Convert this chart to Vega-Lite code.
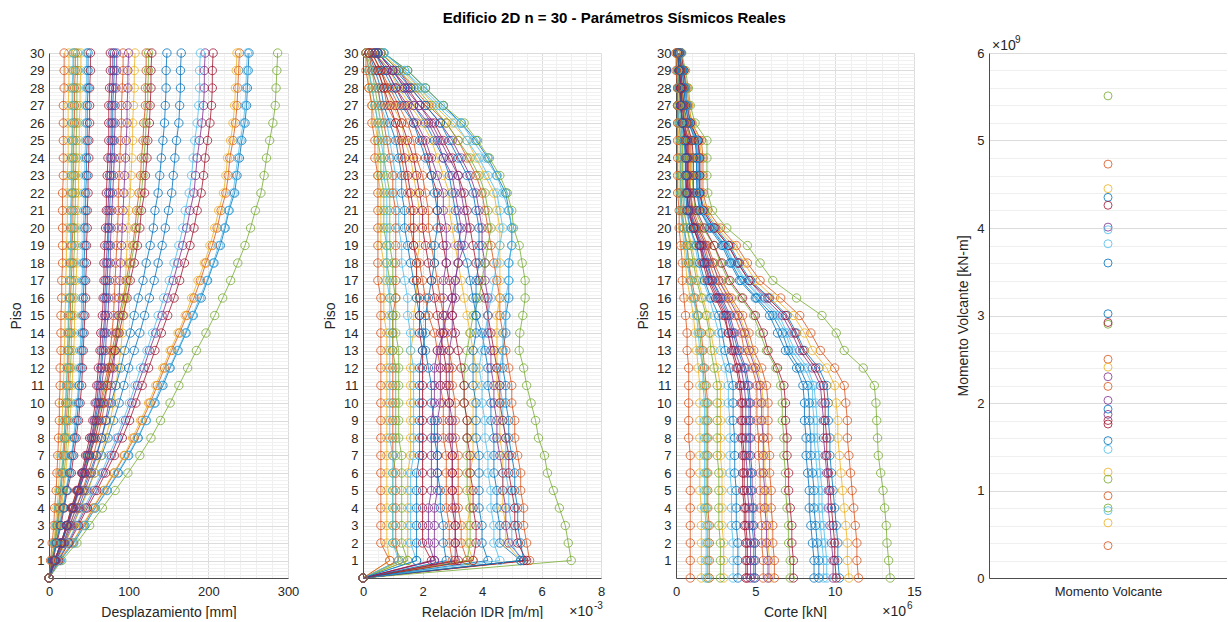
{
"$schema":"https://vega.github.io/schema/vega-lite/v6.json",
"padding":{"left":9,"top":11,"right":0,"bottom":0},
"title":{"text":"Edificio 2D n = 30 - Parámetros Sísmicos Reales","fontSize":15,"fontWeight":"bold","font":"Liberation Sans","color":"#000000","anchor":"middle","offset":9,"dx":-4},
"config":{"font":"Liberation Sans","view":{"stroke":null},
"axis":{"labelFont":"Liberation Sans","labelFontSize":13,"labelColor":"#262626","titleFont":"Liberation Sans","titleFontSize":14,"titleFontWeight":"normal","titleColor":"#262626","domainColor":"#4d4d4d","labelOverlap":false,"labelBound":false,"labelFlush":false,"ticks":false,"labelPadding":5,"titlePadding":6},
"axisX":{"labelPadding":7,"titlePadding":7}},
"datasets":{
"f":[
{"s":1,"p":0,"d":0,"r":0,"v":10.3},{"s":1,"p":1,"d":14,"r":5.4,"v":10.2},{"s":1,"p":2,"d":31,"r":5.3,"v":10.2},{"s":1,"p":3,"d":45,"r":5.2,"v":10.1},{"s":1,"p":4,"d":58,"r":5.2,"v":10.0},{"s":1,"p":5,"d":73,"r":5.1,"v":9.9},{"s":1,"p":6,"d":87,"r":5.1,"v":9.8},{"s":1,"p":7,"d":100,"r":5.0,"v":9.7},{"s":1,"p":8,"d":112,"r":4.9,"v":9.7},{"s":1,"p":9,"d":122,"r":4.9,"v":9.6},{"s":1,"p":10,"d":133,"r":4.8,"v":9.6},{"s":1,"p":11,"d":143,"r":4.8,"v":9.5},{"s":1,"p":12,"d":152,"r":4.7,"v":9.0},{"s":1,"p":13,"d":162,"r":4.7,"v":8.1},{"s":1,"p":14,"d":172,"r":4.8,"v":7.6},{"s":1,"p":15,"d":181,"r":4.8,"v":7.0},{"s":1,"p":16,"d":191,"r":4.9,"v":5.9},{"s":1,"p":17,"d":199,"r":4.9,"v":4.7},{"s":1,"p":18,"d":207,"r":4.9,"v":4.0},{"s":1,"p":19,"d":215,"r":5.0,"v":3.4},{"s":1,"p":20,"d":221,"r":5.0,"v":2.5},{"s":1,"p":21,"d":226,"r":4.9,"v":1.8},{"s":1,"p":22,"d":233,"r":4.8,"v":1.5},{"s":1,"p":23,"d":236,"r":4.5,"v":1.5},{"s":1,"p":24,"d":239,"r":4.2,"v":1.5},{"s":1,"p":25,"d":242,"r":3.8,"v":1.4},{"s":1,"p":26,"d":246,"r":3.3,"v":0.9},{"s":1,"p":27,"d":248,"r":2.7,"v":0.7},{"s":1,"p":28,"d":249,"r":2.1,"v":0.6},{"s":1,"p":29,"d":250,"r":1.5,"v":0.5},{"s":1,"p":30,"d":251,"r":0.7,"v":0.3},
{"s":2,"p":0,"d":0,"r":0,"v":11.5},{"s":2,"p":1,"d":13,"r":5.6,"v":11.4},{"s":2,"p":2,"d":29,"r":5.5,"v":11.4},{"s":2,"p":3,"d":43,"r":5.4,"v":11.3},{"s":2,"p":4,"d":56,"r":5.4,"v":11.2},{"s":2,"p":5,"d":69,"r":5.3,"v":11.1},{"s":2,"p":6,"d":82,"r":5.3,"v":11.0},{"s":2,"p":7,"d":95,"r":5.2,"v":10.9},{"s":2,"p":8,"d":107,"r":5.1,"v":10.8},{"s":2,"p":9,"d":117,"r":5.1,"v":10.8},{"s":2,"p":10,"d":127,"r":5.0,"v":10.7},{"s":2,"p":11,"d":136,"r":5.0,"v":10.6},{"s":2,"p":12,"d":145,"r":4.9,"v":10.0},{"s":2,"p":13,"d":154,"r":4.8,"v":9.1},{"s":2,"p":14,"d":164,"r":4.7,"v":8.5},{"s":2,"p":15,"d":173,"r":4.6,"v":7.8},{"s":2,"p":16,"d":182,"r":4.6,"v":6.6},{"s":2,"p":17,"d":190,"r":4.5,"v":5.3},{"s":2,"p":18,"d":197,"r":4.4,"v":4.5},{"s":2,"p":19,"d":205,"r":4.3,"v":3.8},{"s":2,"p":20,"d":211,"r":4.2,"v":2.8},{"s":2,"p":21,"d":216,"r":4.1,"v":2.0},{"s":2,"p":22,"d":222,"r":4.0,"v":1.7},{"s":2,"p":23,"d":225,"r":3.8,"v":1.7},{"s":2,"p":24,"d":227,"r":3.5,"v":1.7},{"s":2,"p":25,"d":231,"r":3.2,"v":1.6},{"s":2,"p":26,"d":234,"r":2.8,"v":1.0},{"s":2,"p":27,"d":236,"r":2.2,"v":0.8},{"s":2,"p":28,"d":237,"r":1.7,"v":0.7},{"s":2,"p":29,"d":238,"r":1.2,"v":0.5},{"s":2,"p":30,"d":239,"r":0.6,"v":0.3},
{"s":3,"p":0,"d":0,"r":0,"v":10.9},{"s":3,"p":1,"d":13,"r":5.3,"v":10.8},{"s":3,"p":2,"d":29,"r":4.8,"v":10.8},{"s":3,"p":3,"d":42,"r":4.8,"v":10.7},{"s":3,"p":4,"d":55,"r":4.7,"v":10.6},{"s":3,"p":5,"d":68,"r":4.7,"v":10.5},{"s":3,"p":6,"d":81,"r":4.7,"v":10.4},{"s":3,"p":7,"d":94,"r":4.7,"v":10.3},{"s":3,"p":8,"d":105,"r":4.6,"v":10.2},{"s":3,"p":9,"d":115,"r":4.6,"v":10.2},{"s":3,"p":10,"d":125,"r":4.6,"v":10.1},{"s":3,"p":11,"d":134,"r":4.5,"v":10.0},{"s":3,"p":12,"d":143,"r":4.5,"v":9.5},{"s":3,"p":13,"d":152,"r":4.5,"v":8.6},{"s":3,"p":14,"d":162,"r":4.5,"v":8.1},{"s":3,"p":15,"d":171,"r":4.5,"v":7.4},{"s":3,"p":16,"d":179,"r":4.6,"v":6.2},{"s":3,"p":17,"d":187,"r":4.6,"v":5.0},{"s":3,"p":18,"d":195,"r":4.6,"v":4.3},{"s":3,"p":19,"d":202,"r":4.6,"v":3.6},{"s":3,"p":20,"d":208,"r":4.6,"v":2.6},{"s":3,"p":21,"d":213,"r":4.5,"v":1.9},{"s":3,"p":22,"d":219,"r":4.4,"v":1.6},{"s":3,"p":23,"d":222,"r":4.1,"v":1.6},{"s":3,"p":24,"d":224,"r":3.8,"v":1.6},{"s":3,"p":25,"d":228,"r":3.5,"v":1.5},{"s":3,"p":26,"d":231,"r":3.0,"v":1.0},{"s":3,"p":27,"d":233,"r":2.4,"v":0.8},{"s":3,"p":28,"d":234,"r":1.9,"v":0.7},{"s":3,"p":29,"d":235,"r":1.3,"v":0.5},{"s":3,"p":30,"d":236,"r":0.6,"v":0.3},
{"s":4,"p":0,"d":0,"r":0,"v":9.9},{"s":4,"p":1,"d":11,"r":5.4,"v":9.9},{"s":4,"p":2,"d":24,"r":4.9,"v":9.8},{"s":4,"p":3,"d":35,"r":4.8,"v":9.7},{"s":4,"p":4,"d":46,"r":4.8,"v":9.6},{"s":4,"p":5,"d":57,"r":4.7,"v":9.6},{"s":4,"p":6,"d":68,"r":4.7,"v":9.5},{"s":4,"p":7,"d":78,"r":4.6,"v":9.4},{"s":4,"p":8,"d":87,"r":4.5,"v":9.3},{"s":4,"p":9,"d":96,"r":4.5,"v":9.3},{"s":4,"p":10,"d":104,"r":4.4,"v":9.2},{"s":4,"p":11,"d":111,"r":4.4,"v":9.1},{"s":4,"p":12,"d":119,"r":4.3,"v":8.6},{"s":4,"p":13,"d":126,"r":4.3,"v":7.8},{"s":4,"p":14,"d":134,"r":4.2,"v":7.3},{"s":4,"p":15,"d":142,"r":4.2,"v":6.7},{"s":4,"p":16,"d":149,"r":4.2,"v":5.6},{"s":4,"p":17,"d":156,"r":4.1,"v":4.6},{"s":4,"p":18,"d":162,"r":4.1,"v":3.9},{"s":4,"p":19,"d":168,"r":4.0,"v":3.3},{"s":4,"p":20,"d":173,"r":4.0,"v":2.4},{"s":4,"p":21,"d":177,"r":3.9,"v":1.7},{"s":4,"p":22,"d":182,"r":3.8,"v":1.5},{"s":4,"p":23,"d":184,"r":3.6,"v":1.4},{"s":4,"p":24,"d":186,"r":3.3,"v":1.4},{"s":4,"p":25,"d":189,"r":3.0,"v":1.4},{"s":4,"p":26,"d":192,"r":2.6,"v":0.9},{"s":4,"p":27,"d":194,"r":2.1,"v":0.7},{"s":4,"p":28,"d":195,"r":1.6,"v":0.6},{"s":4,"p":29,"d":195,"r":1.2,"v":0.4},{"s":4,"p":30,"d":196,"r":0.6,"v":0.3},
{"s":5,"p":0,"d":0,"r":0,"v":13.5},{"s":5,"p":1,"d":16,"r":7.0,"v":13.4},{"s":5,"p":2,"d":35,"r":6.9,"v":13.3},{"s":5,"p":3,"d":51,"r":6.8,"v":13.25},{"s":5,"p":4,"d":67,"r":6.6,"v":13.15},{"s":5,"p":5,"d":83,"r":6.4,"v":13.05},{"s":5,"p":6,"d":99,"r":6.2,"v":12.9},{"s":5,"p":7,"d":114,"r":6.1,"v":12.75},{"s":5,"p":8,"d":128,"r":5.9,"v":12.7},{"s":5,"p":9,"d":140,"r":5.8,"v":12.65},{"s":5,"p":10,"d":152,"r":5.65,"v":12.6},{"s":5,"p":11,"d":163,"r":5.5,"v":12.5},{"s":5,"p":12,"d":174,"r":5.4,"v":11.8},{"s":5,"p":13,"d":185,"r":5.25,"v":10.6},{"s":5,"p":14,"d":197,"r":5.27,"v":10.1},{"s":5,"p":15,"d":208,"r":5.37,"v":9.2},{"s":5,"p":16,"d":218,"r":5.45,"v":7.6},{"s":5,"p":17,"d":228,"r":5.45,"v":6.1},{"s":5,"p":18,"d":237,"r":5.35,"v":5.3},{"s":5,"p":19,"d":246,"r":5.25,"v":4.5},{"s":5,"p":20,"d":253,"r":5.06,"v":3.2},{"s":5,"p":21,"d":259,"r":5.0,"v":2.3},{"s":5,"p":22,"d":266,"r":4.85,"v":2.0},{"s":5,"p":23,"d":270,"r":4.6,"v":1.95},{"s":5,"p":24,"d":273,"r":4.25,"v":1.95},{"s":5,"p":25,"d":277,"r":3.85,"v":1.95},{"s":5,"p":26,"d":281,"r":3.4,"v":1.2},{"s":5,"p":27,"d":284,"r":2.7,"v":0.9},{"s":5,"p":28,"d":285,"r":2.1,"v":0.78},{"s":5,"p":29,"d":286,"r":1.5,"v":0.6},{"s":5,"p":30,"d":287,"r":0.7,"v":0.36},
{"s":6,"p":0,"d":0,"r":0,"v":9.5},{"s":6,"p":1,"d":14,"r":5.3,"v":9.5},{"s":6,"p":2,"d":30,"r":5.0,"v":9.4},{"s":6,"p":3,"d":44,"r":5.0,"v":9.3},{"s":6,"p":4,"d":58,"r":4.9,"v":9.2},{"s":6,"p":5,"d":72,"r":4.9,"v":9.2},{"s":6,"p":6,"d":86,"r":4.8,"v":9.1},{"s":6,"p":7,"d":99,"r":4.8,"v":9.0},{"s":6,"p":8,"d":111,"r":4.8,"v":8.9},{"s":6,"p":9,"d":122,"r":4.7,"v":8.9},{"s":6,"p":10,"d":132,"r":4.7,"v":8.8},{"s":6,"p":11,"d":141,"r":4.6,"v":8.7},{"s":6,"p":12,"d":151,"r":4.6,"v":8.3},{"s":6,"p":13,"d":161,"r":4.7,"v":7.5},{"s":6,"p":14,"d":171,"r":4.7,"v":7.0},{"s":6,"p":15,"d":180,"r":4.8,"v":6.5},{"s":6,"p":16,"d":189,"r":4.8,"v":5.4},{"s":6,"p":17,"d":198,"r":4.9,"v":4.4},{"s":6,"p":18,"d":206,"r":4.9,"v":3.7},{"s":6,"p":19,"d":213,"r":5.0,"v":3.1},{"s":6,"p":20,"d":220,"r":5.0,"v":2.3},{"s":6,"p":21,"d":225,"r":4.9,"v":1.6},{"s":6,"p":22,"d":231,"r":4.7,"v":1.4},{"s":6,"p":23,"d":234,"r":4.5,"v":1.4},{"s":6,"p":24,"d":237,"r":4.1,"v":1.4},{"s":6,"p":25,"d":240,"r":3.7,"v":1.3},{"s":6,"p":26,"d":244,"r":3.3,"v":0.9},{"s":6,"p":27,"d":246,"r":2.6,"v":0.7},{"s":6,"p":28,"d":247,"r":2.0,"v":0.6},{"s":6,"p":29,"d":248,"r":1.4,"v":0.4},{"s":6,"p":30,"d":249,"r":0.7,"v":0.3},
{"s":7,"p":0,"d":0,"r":0,"v":10.1},{"s":7,"p":1,"d":12,"r":5.5,"v":10.0},{"s":7,"p":2,"d":25,"r":5.2,"v":10.0},{"s":7,"p":3,"d":37,"r":5.1,"v":9.9},{"s":7,"p":4,"d":48,"r":5.1,"v":9.8},{"s":7,"p":5,"d":60,"r":5.0,"v":9.7},{"s":7,"p":6,"d":71,"r":4.9,"v":9.6},{"s":7,"p":7,"d":82,"r":4.9,"v":9.5},{"s":7,"p":8,"d":92,"r":4.8,"v":9.5},{"s":7,"p":9,"d":101,"r":4.7,"v":9.4},{"s":7,"p":10,"d":109,"r":4.6,"v":9.4},{"s":7,"p":11,"d":117,"r":4.6,"v":9.3},{"s":7,"p":12,"d":125,"r":4.5,"v":8.8},{"s":7,"p":13,"d":133,"r":4.4,"v":8.0},{"s":7,"p":14,"d":141,"r":4.3,"v":7.5},{"s":7,"p":15,"d":149,"r":4.2,"v":6.9},{"s":7,"p":16,"d":157,"r":4.1,"v":5.8},{"s":7,"p":17,"d":164,"r":3.9,"v":4.6},{"s":7,"p":18,"d":170,"r":3.8,"v":3.9},{"s":7,"p":19,"d":177,"r":3.7,"v":3.3},{"s":7,"p":20,"d":182,"r":3.6,"v":2.4},{"s":7,"p":21,"d":186,"r":3.5,"v":1.7},{"s":7,"p":22,"d":191,"r":3.4,"v":1.5},{"s":7,"p":23,"d":194,"r":3.2,"v":1.5},{"s":7,"p":24,"d":196,"r":3.0,"v":1.5},{"s":7,"p":25,"d":199,"r":2.7,"v":1.4},{"s":7,"p":26,"d":202,"r":2.4,"v":0.9},{"s":7,"p":27,"d":204,"r":1.9,"v":0.7},{"s":7,"p":28,"d":205,"r":1.5,"v":0.6},{"s":7,"p":29,"d":205,"r":1.0,"v":0.5},{"s":7,"p":30,"d":206,"r":0.5,"v":0.3},
{"s":8,"p":0,"d":0,"r":0,"v":9.0},{"s":8,"p":1,"d":9,"r":5.3,"v":9.0},{"s":8,"p":2,"d":20,"r":4.6,"v":8.9},{"s":8,"p":3,"d":30,"r":4.6,"v":8.8},{"s":8,"p":4,"d":39,"r":4.5,"v":8.7},{"s":8,"p":5,"d":48,"r":4.5,"v":8.7},{"s":8,"p":6,"d":57,"r":4.4,"v":8.6},{"s":8,"p":7,"d":66,"r":4.4,"v":8.5},{"s":8,"p":8,"d":74,"r":4.4,"v":8.5},{"s":8,"p":9,"d":81,"r":4.3,"v":8.4},{"s":8,"p":10,"d":88,"r":4.3,"v":8.4},{"s":8,"p":11,"d":94,"r":4.2,"v":8.3},{"s":8,"p":12,"d":100,"r":4.2,"v":7.8},{"s":8,"p":13,"d":107,"r":4.1,"v":7.1},{"s":8,"p":14,"d":114,"r":4.0,"v":6.7},{"s":8,"p":15,"d":120,"r":3.8,"v":6.1},{"s":8,"p":16,"d":126,"r":3.7,"v":5.1},{"s":8,"p":17,"d":132,"r":3.6,"v":4.1},{"s":8,"p":18,"d":137,"r":3.5,"v":3.5},{"s":8,"p":19,"d":142,"r":3.3,"v":3.0},{"s":8,"p":20,"d":146,"r":3.2,"v":2.2},{"s":8,"p":21,"d":150,"r":3.1,"v":1.5},{"s":8,"p":22,"d":154,"r":3.0,"v":1.4},{"s":8,"p":23,"d":156,"r":2.9,"v":1.3},{"s":8,"p":24,"d":158,"r":2.7,"v":1.3},{"s":8,"p":25,"d":160,"r":2.4,"v":1.3},{"s":8,"p":26,"d":163,"r":2.1,"v":0.8},{"s":8,"p":27,"d":164,"r":1.7,"v":0.6},{"s":8,"p":28,"d":165,"r":1.3,"v":0.5},{"s":8,"p":29,"d":165,"r":0.9,"v":0.4},{"s":8,"p":30,"d":166,"r":0.4,"v":0.2},
{"s":9,"p":0,"d":0,"r":0,"v":6.2},{"s":9,"p":1,"d":7,"r":3.5,"v":6.2},{"s":9,"p":2,"d":15,"r":3.3,"v":6.1},{"s":9,"p":3,"d":22,"r":3.3,"v":6.1},{"s":9,"p":4,"d":28,"r":3.2,"v":6.0},{"s":9,"p":5,"d":35,"r":3.2,"v":6.0},{"s":9,"p":6,"d":42,"r":3.2,"v":5.9},{"s":9,"p":7,"d":48,"r":3.2,"v":5.9},{"s":9,"p":8,"d":54,"r":3.1,"v":5.8},{"s":9,"p":9,"d":60,"r":3.1,"v":5.8},{"s":9,"p":10,"d":65,"r":3.1,"v":5.8},{"s":9,"p":11,"d":69,"r":3.0,"v":5.7},{"s":9,"p":12,"d":74,"r":3.0,"v":5.4},{"s":9,"p":13,"d":79,"r":2.9,"v":4.9},{"s":9,"p":14,"d":84,"r":2.8,"v":4.6},{"s":9,"p":15,"d":88,"r":2.7,"v":4.2},{"s":9,"p":16,"d":93,"r":2.6,"v":3.5},{"s":9,"p":17,"d":97,"r":2.5,"v":2.9},{"s":9,"p":18,"d":101,"r":2.4,"v":2.4},{"s":9,"p":19,"d":105,"r":2.3,"v":2.0},{"s":9,"p":20,"d":108,"r":2.2,"v":1.5},{"s":9,"p":21,"d":110,"r":2.2,"v":1.1},{"s":9,"p":22,"d":113,"r":2.1,"v":0.9},{"s":9,"p":23,"d":115,"r":2.0,"v":0.9},{"s":9,"p":24,"d":116,"r":1.8,"v":0.9},{"s":9,"p":25,"d":118,"r":1.7,"v":0.9},{"s":9,"p":26,"d":119,"r":1.5,"v":0.6},{"s":9,"p":27,"d":121,"r":1.2,"v":0.4},{"s":9,"p":28,"d":121,"r":0.9,"v":0.4},{"s":9,"p":29,"d":122,"r":0.6,"v":0.3},{"s":9,"p":30,"d":122,"r":0.3,"v":0.2},
{"s":10,"p":0,"d":0,"r":0,"v":5.9},{"s":10,"p":1,"d":10,"r":3.7,"v":5.9},{"s":10,"p":2,"d":21,"r":3.5,"v":5.8},{"s":10,"p":3,"d":30,"r":3.5,"v":5.8},{"s":10,"p":4,"d":40,"r":3.6,"v":5.7},{"s":10,"p":5,"d":49,"r":3.6,"v":5.7},{"s":10,"p":6,"d":57,"r":3.6,"v":5.6},{"s":10,"p":7,"d":65,"r":3.7,"v":5.6},{"s":10,"p":8,"d":71,"r":3.7,"v":5.5},{"s":10,"p":9,"d":77,"r":3.7,"v":5.5},{"s":10,"p":10,"d":81,"r":3.7,"v":5.5},{"s":10,"p":11,"d":84,"r":3.8,"v":5.4},{"s":10,"p":12,"d":87,"r":3.8,"v":5.1},{"s":10,"p":13,"d":90,"r":3.7,"v":4.7},{"s":10,"p":14,"d":92,"r":3.6,"v":4.4},{"s":10,"p":15,"d":94,"r":3.5,"v":4.0},{"s":10,"p":16,"d":95,"r":3.4,"v":3.4},{"s":10,"p":17,"d":96,"r":3.3,"v":2.7},{"s":10,"p":18,"d":97,"r":3.2,"v":2.3},{"s":10,"p":19,"d":98,"r":3.1,"v":1.9},{"s":10,"p":20,"d":99,"r":3.0,"v":1.4},{"s":10,"p":21,"d":100,"r":2.9,"v":1.0},{"s":10,"p":22,"d":102,"r":2.9,"v":0.9},{"s":10,"p":23,"d":103,"r":2.7,"v":0.9},{"s":10,"p":24,"d":104,"r":2.5,"v":0.9},{"s":10,"p":25,"d":105,"r":2.3,"v":0.8},{"s":10,"p":26,"d":105,"r":2.0,"v":0.5},{"s":10,"p":27,"d":106,"r":1.6,"v":0.4},{"s":10,"p":28,"d":107,"r":1.2,"v":0.4},{"s":10,"p":29,"d":107,"r":0.9,"v":0.3},{"s":10,"p":30,"d":108,"r":0.4,"v":0.2},
{"s":11,"p":0,"d":0,"r":0,"v":5.8},{"s":11,"p":1,"d":9,"r":3.1,"v":5.8},{"s":11,"p":2,"d":19,"r":3.1,"v":5.7},{"s":11,"p":3,"d":28,"r":3.1,"v":5.7},{"s":11,"p":4,"d":37,"r":3.1,"v":5.6},{"s":11,"p":5,"d":45,"r":3.0,"v":5.6},{"s":11,"p":6,"d":53,"r":3.0,"v":5.5},{"s":11,"p":7,"d":60,"r":3.0,"v":5.5},{"s":11,"p":8,"d":66,"r":3.0,"v":5.5},{"s":11,"p":9,"d":71,"r":3.0,"v":5.4},{"s":11,"p":10,"d":75,"r":2.9,"v":5.4},{"s":11,"p":11,"d":78,"r":2.9,"v":5.3},{"s":11,"p":12,"d":81,"r":2.9,"v":5.0},{"s":11,"p":13,"d":83,"r":2.9,"v":4.6},{"s":11,"p":14,"d":85,"r":3.0,"v":4.3},{"s":11,"p":15,"d":87,"r":3.0,"v":3.9},{"s":11,"p":16,"d":88,"r":3.1,"v":3.3},{"s":11,"p":17,"d":89,"r":3.1,"v":2.7},{"s":11,"p":18,"d":90,"r":3.2,"v":2.3},{"s":11,"p":19,"d":91,"r":3.2,"v":1.9},{"s":11,"p":20,"d":92,"r":3.3,"v":1.4},{"s":11,"p":21,"d":93,"r":3.2,"v":1.0},{"s":11,"p":22,"d":94,"r":3.1,"v":0.9},{"s":11,"p":23,"d":95,"r":3.0,"v":0.8},{"s":11,"p":24,"d":96,"r":2.7,"v":0.8},{"s":11,"p":25,"d":97,"r":2.5,"v":0.8},{"s":11,"p":26,"d":98,"r":2.2,"v":0.5},{"s":11,"p":27,"d":98,"r":1.7,"v":0.4},{"s":11,"p":28,"d":99,"r":1.4,"v":0.3},{"s":11,"p":29,"d":99,"r":1.0,"v":0.3},{"s":11,"p":30,"d":100,"r":0.5,"v":0.2},
{"s":12,"p":0,"d":0,"r":0,"v":7.2},{"s":12,"p":1,"d":7,"r":3.5,"v":7.2},{"s":12,"p":2,"d":15,"r":3.6,"v":7.1},{"s":12,"p":3,"d":22,"r":3.6,"v":7.1},{"s":12,"p":4,"d":29,"r":3.6,"v":7.0},{"s":12,"p":5,"d":36,"r":3.5,"v":6.9},{"s":12,"p":6,"d":43,"r":3.5,"v":6.9},{"s":12,"p":7,"d":50,"r":3.5,"v":6.8},{"s":12,"p":8,"d":56,"r":3.5,"v":6.8},{"s":12,"p":9,"d":61,"r":3.5,"v":6.7},{"s":12,"p":10,"d":66,"r":3.4,"v":6.7},{"s":12,"p":11,"d":71,"r":3.4,"v":6.6},{"s":12,"p":12,"d":76,"r":3.4,"v":6.3},{"s":12,"p":13,"d":81,"r":3.5,"v":5.7},{"s":12,"p":14,"d":86,"r":3.6,"v":5.3},{"s":12,"p":15,"d":90,"r":3.7,"v":4.9},{"s":12,"p":16,"d":95,"r":3.9,"v":4.1},{"s":12,"p":17,"d":99,"r":4.0,"v":3.3},{"s":12,"p":18,"d":103,"r":4.1,"v":2.8},{"s":12,"p":19,"d":107,"r":4.2,"v":2.4},{"s":12,"p":20,"d":110,"r":4.3,"v":1.7},{"s":12,"p":21,"d":113,"r":4.2,"v":1.2},{"s":12,"p":22,"d":116,"r":4.1,"v":1.1},{"s":12,"p":23,"d":118,"r":3.9,"v":1.0},{"s":12,"p":24,"d":119,"r":3.6,"v":1.0},{"s":12,"p":25,"d":121,"r":3.2,"v":1.0},{"s":12,"p":26,"d":122,"r":2.8,"v":0.6},{"s":12,"p":27,"d":124,"r":2.3,"v":0.5},{"s":12,"p":28,"d":124,"r":1.8,"v":0.4},{"s":12,"p":29,"d":125,"r":1.2,"v":0.3},{"s":12,"p":30,"d":125,"r":0.6,"v":0.2},
{"s":13,"p":0,"d":0,"r":0,"v":9.3},{"s":13,"p":1,"d":11,"r":4.6,"v":9.3},{"s":13,"p":2,"d":23,"r":4.4,"v":9.2},{"s":13,"p":3,"d":34,"r":4.4,"v":9.1},{"s":13,"p":4,"d":44,"r":4.3,"v":9.0},{"s":13,"p":5,"d":55,"r":4.3,"v":9.0},{"s":13,"p":6,"d":66,"r":4.2,"v":8.9},{"s":13,"p":7,"d":75,"r":4.2,"v":8.8},{"s":13,"p":8,"d":85,"r":4.1,"v":8.7},{"s":13,"p":9,"d":93,"r":4.1,"v":8.7},{"s":13,"p":10,"d":101,"r":4.0,"v":8.6},{"s":13,"p":11,"d":108,"r":4.0,"v":8.6},{"s":13,"p":12,"d":115,"r":3.9,"v":8.1},{"s":13,"p":13,"d":123,"r":4.0,"v":7.3},{"s":13,"p":14,"d":130,"r":4.1,"v":6.9},{"s":13,"p":15,"d":137,"r":4.2,"v":6.3},{"s":13,"p":16,"d":144,"r":4.3,"v":5.3},{"s":13,"p":17,"d":151,"r":4.4,"v":4.3},{"s":13,"p":18,"d":157,"r":4.5,"v":3.6},{"s":13,"p":19,"d":163,"r":4.6,"v":3.1},{"s":13,"p":20,"d":168,"r":4.7,"v":2.2},{"s":13,"p":21,"d":171,"r":4.6,"v":1.6},{"s":13,"p":22,"d":176,"r":4.5,"v":1.4},{"s":13,"p":23,"d":179,"r":4.2,"v":1.3},{"s":13,"p":24,"d":181,"r":3.9,"v":1.3},{"s":13,"p":25,"d":183,"r":3.5,"v":1.3},{"s":13,"p":26,"d":186,"r":3.1,"v":0.8},{"s":13,"p":27,"d":188,"r":2.5,"v":0.7},{"s":13,"p":28,"d":189,"r":1.9,"v":0.6},{"s":13,"p":29,"d":189,"r":1.4,"v":0.4},{"s":13,"p":30,"d":190,"r":0.7,"v":0.3},
{"s":14,"p":0,"d":0,"r":0,"v":7.4},{"s":14,"p":1,"d":7,"r":3.7,"v":7.4},{"s":14,"p":2,"d":16,"r":3.8,"v":7.3},{"s":14,"p":3,"d":23,"r":3.8,"v":7.3},{"s":14,"p":4,"d":30,"r":3.7,"v":7.2},{"s":14,"p":5,"d":37,"r":3.7,"v":7.1},{"s":14,"p":6,"d":45,"r":3.6,"v":7.1},{"s":14,"p":7,"d":51,"r":3.6,"v":7.0},{"s":14,"p":8,"d":58,"r":3.5,"v":7.0},{"s":14,"p":9,"d":63,"r":3.5,"v":6.9},{"s":14,"p":10,"d":68,"r":3.4,"v":6.9},{"s":14,"p":11,"d":73,"r":3.4,"v":6.8},{"s":14,"p":12,"d":78,"r":3.3,"v":6.4},{"s":14,"p":13,"d":83,"r":3.2,"v":5.8},{"s":14,"p":14,"d":88,"r":3.1,"v":5.5},{"s":14,"p":15,"d":93,"r":3.0,"v":5.0},{"s":14,"p":16,"d":98,"r":3.0,"v":4.2},{"s":14,"p":17,"d":102,"r":2.9,"v":3.4},{"s":14,"p":18,"d":107,"r":2.8,"v":2.9},{"s":14,"p":19,"d":111,"r":2.7,"v":2.4},{"s":14,"p":20,"d":114,"r":2.6,"v":1.8},{"s":14,"p":21,"d":116,"r":2.5,"v":1.3},{"s":14,"p":22,"d":120,"r":2.5,"v":1.1},{"s":14,"p":23,"d":121,"r":2.3,"v":1.1},{"s":14,"p":24,"d":123,"r":2.2,"v":1.1},{"s":14,"p":25,"d":124,"r":2.0,"v":1.0},{"s":14,"p":26,"d":126,"r":1.7,"v":0.7},{"s":14,"p":27,"d":127,"r":1.4,"v":0.5},{"s":14,"p":28,"d":128,"r":1.1,"v":0.4},{"s":14,"p":29,"d":128,"r":0.8,"v":0.3},{"s":14,"p":30,"d":129,"r":0.4,"v":0.2},
{"s":15,"p":0,"d":0,"r":0,"v":8.7},{"s":15,"p":1,"d":8,"r":4.2,"v":8.7},{"s":15,"p":2,"d":18,"r":4.0,"v":8.6},{"s":15,"p":3,"d":26,"r":4.0,"v":8.5},{"s":15,"p":4,"d":34,"r":3.9,"v":8.4},{"s":15,"p":5,"d":43,"r":3.9,"v":8.4},{"s":15,"p":6,"d":51,"r":3.9,"v":8.3},{"s":15,"p":7,"d":59,"r":3.9,"v":8.2},{"s":15,"p":8,"d":66,"r":3.8,"v":8.2},{"s":15,"p":9,"d":72,"r":3.8,"v":8.1},{"s":15,"p":10,"d":78,"r":3.8,"v":8.1},{"s":15,"p":11,"d":84,"r":3.7,"v":8.0},{"s":15,"p":12,"d":90,"r":3.7,"v":7.6},{"s":15,"p":13,"d":95,"r":3.7,"v":6.9},{"s":15,"p":14,"d":102,"r":3.8,"v":6.4},{"s":15,"p":15,"d":107,"r":3.8,"v":5.9},{"s":15,"p":16,"d":112,"r":3.8,"v":5.0},{"s":15,"p":17,"d":118,"r":3.8,"v":4.0},{"s":15,"p":18,"d":122,"r":3.9,"v":3.4},{"s":15,"p":19,"d":127,"r":3.9,"v":2.9},{"s":15,"p":20,"d":131,"r":3.9,"v":2.1},{"s":15,"p":21,"d":133,"r":3.8,"v":1.5},{"s":15,"p":22,"d":137,"r":3.7,"v":1.3},{"s":15,"p":23,"d":139,"r":3.5,"v":1.3},{"s":15,"p":24,"d":141,"r":3.2,"v":1.3},{"s":15,"p":25,"d":143,"r":2.9,"v":1.2},{"s":15,"p":26,"d":145,"r":2.6,"v":0.8},{"s":15,"p":27,"d":146,"r":2.1,"v":0.6},{"s":15,"p":28,"d":147,"r":1.6,"v":0.5},{"s":15,"p":29,"d":147,"r":1.1,"v":0.4},{"s":15,"p":30,"d":148,"r":0.5,"v":0.2},
{"s":16,"p":0,"d":0,"r":0,"v":5.5},{"s":16,"p":1,"d":8,"r":3.0,"v":5.5},{"s":16,"p":2,"d":18,"r":2.9,"v":5.4},{"s":16,"p":3,"d":26,"r":2.9,"v":5.4},{"s":16,"p":4,"d":34,"r":2.8,"v":5.3},{"s":16,"p":5,"d":42,"r":2.8,"v":5.3},{"s":16,"p":6,"d":49,"r":2.8,"v":5.3},{"s":16,"p":7,"d":56,"r":2.8,"v":5.2},{"s":16,"p":8,"d":61,"r":2.7,"v":5.2},{"s":16,"p":9,"d":66,"r":2.7,"v":5.1},{"s":16,"p":10,"d":70,"r":2.7,"v":5.1},{"s":16,"p":11,"d":73,"r":2.6,"v":5.1},{"s":16,"p":12,"d":75,"r":2.6,"v":4.8},{"s":16,"p":13,"d":77,"r":2.5,"v":4.3},{"s":16,"p":14,"d":79,"r":2.4,"v":4.1},{"s":16,"p":15,"d":81,"r":2.2,"v":3.7},{"s":16,"p":16,"d":82,"r":2.1,"v":3.1},{"s":16,"p":17,"d":83,"r":2.0,"v":2.5},{"s":16,"p":18,"d":84,"r":1.9,"v":2.1},{"s":16,"p":19,"d":85,"r":1.7,"v":1.8},{"s":16,"p":20,"d":86,"r":1.6,"v":1.3},{"s":16,"p":21,"d":87,"r":1.6,"v":0.9},{"s":16,"p":22,"d":87,"r":1.5,"v":0.8},{"s":16,"p":23,"d":88,"r":1.4,"v":0.8},{"s":16,"p":24,"d":89,"r":1.3,"v":0.8},{"s":16,"p":25,"d":90,"r":1.2,"v":0.8},{"s":16,"p":26,"d":91,"r":1.1,"v":0.5},{"s":16,"p":27,"d":91,"r":0.8,"v":0.4},{"s":16,"p":28,"d":92,"r":0.7,"v":0.3},{"s":16,"p":29,"d":93,"r":0.5,"v":0.2},{"s":16,"p":30,"d":93,"r":0.2,"v":0.1},
{"s":17,"p":0,"d":0,"r":0,"v":3.0},{"s":17,"p":1,"d":5,"r":1.5,"v":3.0},{"s":17,"p":2,"d":9,"r":1.5,"v":3.0},{"s":17,"p":3,"d":12,"r":1.5,"v":2.9},{"s":17,"p":4,"d":16,"r":1.5,"v":2.9},{"s":17,"p":5,"d":18,"r":1.5,"v":2.9},{"s":17,"p":6,"d":21,"r":1.5,"v":2.9},{"s":17,"p":7,"d":23,"r":1.6,"v":2.8},{"s":17,"p":8,"d":25,"r":1.6,"v":2.8},{"s":17,"p":9,"d":26,"r":1.6,"v":2.8},{"s":17,"p":10,"d":28,"r":1.6,"v":2.8},{"s":17,"p":11,"d":29,"r":1.6,"v":2.8},{"s":17,"p":12,"d":30,"r":1.6,"v":2.6},{"s":17,"p":13,"d":31,"r":1.6,"v":2.4},{"s":17,"p":14,"d":32,"r":1.7,"v":2.2},{"s":17,"p":15,"d":32,"r":1.7,"v":2.0},{"s":17,"p":16,"d":33,"r":1.8,"v":1.7},{"s":17,"p":17,"d":34,"r":1.8,"v":1.4},{"s":17,"p":18,"d":35,"r":1.8,"v":1.2},{"s":17,"p":19,"d":36,"r":1.9,"v":1.0},{"s":17,"p":20,"d":36,"r":1.9,"v":0.7},{"s":17,"p":21,"d":36,"r":1.9,"v":0.5},{"s":17,"p":22,"d":37,"r":1.8,"v":0.5},{"s":17,"p":23,"d":37,"r":1.7,"v":0.4},{"s":17,"p":24,"d":38,"r":1.6,"v":0.4},{"s":17,"p":25,"d":38,"r":1.4,"v":0.4},{"s":17,"p":26,"d":38,"r":1.3,"v":0.3},{"s":17,"p":27,"d":39,"r":1.0,"v":0.2},{"s":17,"p":28,"d":39,"r":0.8,"v":0.2},{"s":17,"p":29,"d":40,"r":0.6,"v":0.1},{"s":17,"p":30,"d":40,"r":0.3,"v":0.1},
{"s":18,"p":0,"d":0,"r":0,"v":5.0},{"s":18,"p":1,"d":8,"r":2.4,"v":5.0},{"s":18,"p":2,"d":16,"r":2.4,"v":5.0},{"s":18,"p":3,"d":24,"r":2.4,"v":4.9},{"s":18,"p":4,"d":31,"r":2.4,"v":4.9},{"s":18,"p":5,"d":38,"r":2.5,"v":4.8},{"s":18,"p":6,"d":45,"r":2.5,"v":4.8},{"s":18,"p":7,"d":51,"r":2.5,"v":4.7},{"s":18,"p":8,"d":56,"r":2.5,"v":4.7},{"s":18,"p":9,"d":60,"r":2.5,"v":4.7},{"s":18,"p":10,"d":64,"r":2.6,"v":4.7},{"s":18,"p":11,"d":66,"r":2.6,"v":4.6},{"s":18,"p":12,"d":69,"r":2.6,"v":4.4},{"s":18,"p":13,"d":71,"r":2.6,"v":4.0},{"s":18,"p":14,"d":72,"r":2.7,"v":3.7},{"s":18,"p":15,"d":74,"r":2.7,"v":3.4},{"s":18,"p":16,"d":75,"r":2.7,"v":2.9},{"s":18,"p":17,"d":76,"r":2.7,"v":2.3},{"s":18,"p":18,"d":77,"r":2.8,"v":2.0},{"s":18,"p":19,"d":77,"r":2.8,"v":1.7},{"s":18,"p":20,"d":78,"r":2.8,"v":1.2},{"s":18,"p":21,"d":79,"r":2.7,"v":0.9},{"s":18,"p":22,"d":80,"r":2.7,"v":0.8},{"s":18,"p":23,"d":81,"r":2.5,"v":0.7},{"s":18,"p":24,"d":82,"r":2.3,"v":0.7},{"s":18,"p":25,"d":82,"r":2.1,"v":0.7},{"s":18,"p":26,"d":83,"r":1.8,"v":0.5},{"s":18,"p":27,"d":83,"r":1.5,"v":0.4},{"s":18,"p":28,"d":84,"r":1.1,"v":0.3},{"s":18,"p":29,"d":85,"r":0.8,"v":0.2},{"s":18,"p":30,"d":85,"r":0.4,"v":0.1},
{"s":19,"p":0,"d":0,"r":0,"v":2.8},{"s":19,"p":1,"d":4,"r":1.5,"v":2.8},{"s":19,"p":2,"d":8,"r":1.3,"v":2.8},{"s":19,"p":3,"d":11,"r":1.3,"v":2.7},{"s":19,"p":4,"d":14,"r":1.3,"v":2.7},{"s":19,"p":5,"d":17,"r":1.3,"v":2.7},{"s":19,"p":6,"d":19,"r":1.3,"v":2.7},{"s":19,"p":7,"d":21,"r":1.3,"v":2.6},{"s":19,"p":8,"d":22,"r":1.2,"v":2.6},{"s":19,"p":9,"d":24,"r":1.2,"v":2.6},{"s":19,"p":10,"d":25,"r":1.2,"v":2.6},{"s":19,"p":11,"d":26,"r":1.2,"v":2.6},{"s":19,"p":12,"d":27,"r":1.2,"v":2.4},{"s":19,"p":13,"d":28,"r":1.2,"v":2.2},{"s":19,"p":14,"d":28,"r":1.1,"v":2.1},{"s":19,"p":15,"d":29,"r":1.1,"v":1.9},{"s":19,"p":16,"d":30,"r":1.1,"v":1.6},{"s":19,"p":17,"d":31,"r":1.0,"v":1.3},{"s":19,"p":18,"d":31,"r":1.0,"v":1.1},{"s":19,"p":19,"d":32,"r":0.9,"v":0.9},{"s":19,"p":20,"d":32,"r":0.9,"v":0.7},{"s":19,"p":21,"d":33,"r":0.9,"v":0.5},{"s":19,"p":22,"d":33,"r":0.9,"v":0.4},{"s":19,"p":23,"d":33,"r":0.8,"v":0.4},{"s":19,"p":24,"d":34,"r":0.7,"v":0.4},{"s":19,"p":25,"d":34,"r":0.7,"v":0.4},{"s":19,"p":26,"d":35,"r":0.6,"v":0.3},{"s":19,"p":27,"d":35,"r":0.5,"v":0.2},{"s":19,"p":28,"d":35,"r":0.4,"v":0.2},{"s":19,"p":29,"d":36,"r":0.3,"v":0.1},{"s":19,"p":30,"d":36,"r":0.1,"v":0.1},
{"s":20,"p":0,"d":0,"r":0,"v":3.6},{"s":20,"p":1,"d":4,"r":1.8,"v":3.6},{"s":20,"p":2,"d":9,"r":1.6,"v":3.6},{"s":20,"p":3,"d":13,"r":1.6,"v":3.5},{"s":20,"p":4,"d":17,"r":1.6,"v":3.5},{"s":20,"p":5,"d":21,"r":1.6,"v":3.5},{"s":20,"p":6,"d":25,"r":1.6,"v":3.4},{"s":20,"p":7,"d":28,"r":1.7,"v":3.4},{"s":20,"p":8,"d":31,"r":1.7,"v":3.4},{"s":20,"p":9,"d":33,"r":1.7,"v":3.4},{"s":20,"p":10,"d":35,"r":1.7,"v":3.3},{"s":20,"p":11,"d":37,"r":1.7,"v":3.3},{"s":20,"p":12,"d":38,"r":1.7,"v":3.1},{"s":20,"p":13,"d":39,"r":1.6,"v":2.8},{"s":20,"p":14,"d":40,"r":1.6,"v":2.7},{"s":20,"p":15,"d":41,"r":1.5,"v":2.4},{"s":20,"p":16,"d":41,"r":1.5,"v":2.1},{"s":20,"p":17,"d":42,"r":1.4,"v":1.7},{"s":20,"p":18,"d":42,"r":1.3,"v":1.4},{"s":20,"p":19,"d":43,"r":1.3,"v":1.2},{"s":20,"p":20,"d":43,"r":1.2,"v":0.9},{"s":20,"p":21,"d":44,"r":1.2,"v":0.6},{"s":20,"p":22,"d":44,"r":1.1,"v":0.5},{"s":20,"p":23,"d":45,"r":1.1,"v":0.5},{"s":20,"p":24,"d":45,"r":1.0,"v":0.5},{"s":20,"p":25,"d":46,"r":0.9,"v":0.5},{"s":20,"p":26,"d":46,"r":0.8,"v":0.3},{"s":20,"p":27,"d":46,"r":0.6,"v":0.3},{"s":20,"p":28,"d":47,"r":0.5,"v":0.2},{"s":20,"p":29,"d":47,"r":0.3,"v":0.2},{"s":20,"p":30,"d":47,"r":0.2,"v":0.1},
{"s":21,"p":0,"d":0,"r":0,"v":4.5},{"s":21,"p":1,"d":7,"r":3.2,"v":4.5},{"s":21,"p":2,"d":15,"r":3.1,"v":4.5},{"s":21,"p":3,"d":22,"r":3.1,"v":4.4},{"s":21,"p":4,"d":28,"r":3.0,"v":4.4},{"s":21,"p":5,"d":35,"r":3.0,"v":4.3},{"s":21,"p":6,"d":41,"r":3.0,"v":4.3},{"s":21,"p":7,"d":46,"r":3.0,"v":4.3},{"s":21,"p":8,"d":51,"r":2.9,"v":4.2},{"s":21,"p":9,"d":55,"r":2.9,"v":4.2},{"s":21,"p":10,"d":58,"r":2.9,"v":4.2},{"s":21,"p":11,"d":60,"r":2.8,"v":4.1},{"s":21,"p":12,"d":62,"r":2.8,"v":3.9},{"s":21,"p":13,"d":64,"r":2.7,"v":3.6},{"s":21,"p":14,"d":65,"r":2.6,"v":3.3},{"s":21,"p":15,"d":67,"r":2.5,"v":3.1},{"s":21,"p":16,"d":68,"r":2.4,"v":2.6},{"s":21,"p":17,"d":69,"r":2.3,"v":2.1},{"s":21,"p":18,"d":69,"r":2.2,"v":1.8},{"s":21,"p":19,"d":70,"r":2.1,"v":1.5},{"s":21,"p":20,"d":71,"r":2.0,"v":1.1},{"s":21,"p":21,"d":72,"r":2.0,"v":0.8},{"s":21,"p":22,"d":72,"r":1.9,"v":0.7},{"s":21,"p":23,"d":73,"r":1.8,"v":0.7},{"s":21,"p":24,"d":74,"r":1.7,"v":0.7},{"s":21,"p":25,"d":75,"r":1.5,"v":0.6},{"s":21,"p":26,"d":75,"r":1.3,"v":0.4},{"s":21,"p":27,"d":75,"r":1.1,"v":0.3},{"s":21,"p":28,"d":76,"r":0.8,"v":0.3},{"s":21,"p":29,"d":77,"r":0.6,"v":0.2},{"s":21,"p":30,"d":77,"r":0.3,"v":0.1},
{"s":22,"p":0,"d":0,"r":0,"v":4.9},{"s":22,"p":1,"d":7,"r":2.8,"v":4.9},{"s":22,"p":2,"d":16,"r":2.7,"v":4.9},{"s":22,"p":3,"d":23,"r":2.7,"v":4.8},{"s":22,"p":4,"d":30,"r":2.6,"v":4.8},{"s":22,"p":5,"d":37,"r":2.6,"v":4.7},{"s":22,"p":6,"d":43,"r":2.5,"v":4.7},{"s":22,"p":7,"d":49,"r":2.5,"v":4.6},{"s":22,"p":8,"d":54,"r":2.4,"v":4.6},{"s":22,"p":9,"d":58,"r":2.4,"v":4.6},{"s":22,"p":10,"d":62,"r":2.3,"v":4.6},{"s":22,"p":11,"d":64,"r":2.3,"v":4.5},{"s":22,"p":12,"d":66,"r":2.2,"v":4.3},{"s":22,"p":13,"d":68,"r":2.1,"v":3.9},{"s":22,"p":14,"d":70,"r":2.0,"v":3.6},{"s":22,"p":15,"d":71,"r":1.9,"v":3.3},{"s":22,"p":16,"d":72,"r":1.8,"v":2.8},{"s":22,"p":17,"d":73,"r":1.7,"v":2.3},{"s":22,"p":18,"d":74,"r":1.6,"v":1.9},{"s":22,"p":19,"d":75,"r":1.5,"v":1.6},{"s":22,"p":20,"d":75,"r":1.4,"v":1.2},{"s":22,"p":21,"d":76,"r":1.4,"v":0.8},{"s":22,"p":22,"d":77,"r":1.3,"v":0.7},{"s":22,"p":23,"d":78,"r":1.3,"v":0.7},{"s":22,"p":24,"d":79,"r":1.2,"v":0.7},{"s":22,"p":25,"d":80,"r":1.1,"v":0.7},{"s":22,"p":26,"d":80,"r":0.9,"v":0.4},{"s":22,"p":27,"d":80,"r":0.7,"v":0.3},{"s":22,"p":28,"d":81,"r":0.6,"v":0.3},{"s":22,"p":29,"d":82,"r":0.4,"v":0.2},{"s":22,"p":30,"d":82,"r":0.2,"v":0.1},
{"s":23,"p":0,"d":0,"r":0,"v":2.1},{"s":23,"p":1,"d":4,"r":1.2,"v":2.1},{"s":23,"p":2,"d":7,"r":1.1,"v":2.1},{"s":23,"p":3,"d":10,"r":1.1,"v":2.1},{"s":23,"p":4,"d":13,"r":1.1,"v":2.0},{"s":23,"p":5,"d":15,"r":1.1,"v":2.0},{"s":23,"p":6,"d":17,"r":1.1,"v":2.0},{"s":23,"p":7,"d":19,"r":1.0,"v":2.0},{"s":23,"p":8,"d":20,"r":1.0,"v":2.0},{"s":23,"p":9,"d":22,"r":1.0,"v":2.0},{"s":23,"p":10,"d":23,"r":1.0,"v":2.0},{"s":23,"p":11,"d":24,"r":1.0,"v":1.9},{"s":23,"p":12,"d":25,"r":1.0,"v":1.8},{"s":23,"p":13,"d":25,"r":1.0,"v":1.7},{"s":23,"p":14,"d":26,"r":1.0,"v":1.6},{"s":23,"p":15,"d":27,"r":1.0,"v":1.4},{"s":23,"p":16,"d":27,"r":1.1,"v":1.2},{"s":23,"p":17,"d":28,"r":1.1,"v":1.0},{"s":23,"p":18,"d":29,"r":1.1,"v":0.8},{"s":23,"p":19,"d":29,"r":1.1,"v":0.7},{"s":23,"p":20,"d":30,"r":1.1,"v":0.5},{"s":23,"p":21,"d":30,"r":1.1,"v":0.4},{"s":23,"p":22,"d":30,"r":1.0,"v":0.3},{"s":23,"p":23,"d":31,"r":1.0,"v":0.3},{"s":23,"p":24,"d":31,"r":0.9,"v":0.3},{"s":23,"p":25,"d":31,"r":0.8,"v":0.3},{"s":23,"p":26,"d":32,"r":0.7,"v":0.2},{"s":23,"p":27,"d":32,"r":0.6,"v":0.1},{"s":23,"p":28,"d":32,"r":0.5,"v":0.1},{"s":23,"p":29,"d":33,"r":0.3,"v":0.1},{"s":23,"p":30,"d":33,"r":0.2,"v":0.1},
{"s":24,"p":0,"d":0,"r":0,"v":1.6},{"s":24,"p":1,"d":3,"r":0.9,"v":1.6},{"s":24,"p":2,"d":6,"r":0.8,"v":1.6},{"s":24,"p":3,"d":8,"r":0.8,"v":1.6},{"s":24,"p":4,"d":10,"r":0.8,"v":1.6},{"s":24,"p":5,"d":12,"r":0.8,"v":1.5},{"s":24,"p":6,"d":13,"r":0.8,"v":1.5},{"s":24,"p":7,"d":14,"r":0.8,"v":1.5},{"s":24,"p":8,"d":16,"r":0.8,"v":1.5},{"s":24,"p":9,"d":17,"r":0.8,"v":1.5},{"s":24,"p":10,"d":17,"r":0.8,"v":1.5},{"s":24,"p":11,"d":18,"r":0.8,"v":1.5},{"s":24,"p":12,"d":19,"r":0.8,"v":1.4},{"s":24,"p":13,"d":19,"r":0.8,"v":1.3},{"s":24,"p":14,"d":20,"r":0.8,"v":1.2},{"s":24,"p":15,"d":20,"r":0.7,"v":1.1},{"s":24,"p":16,"d":21,"r":0.7,"v":0.9},{"s":24,"p":17,"d":21,"r":0.7,"v":0.7},{"s":24,"p":18,"d":22,"r":0.7,"v":0.6},{"s":24,"p":19,"d":22,"r":0.6,"v":0.5},{"s":24,"p":20,"d":23,"r":0.6,"v":0.4},{"s":24,"p":21,"d":23,"r":0.6,"v":0.3},{"s":24,"p":22,"d":23,"r":0.6,"v":0.2},{"s":24,"p":23,"d":23,"r":0.5,"v":0.2},{"s":24,"p":24,"d":24,"r":0.5,"v":0.2},{"s":24,"p":25,"d":24,"r":0.5,"v":0.2},{"s":24,"p":26,"d":24,"r":0.4,"v":0.1},{"s":24,"p":27,"d":24,"r":0.3,"v":0.1},{"s":24,"p":28,"d":25,"r":0.2,"v":0.1},{"s":24,"p":29,"d":25,"r":0.2,"v":0.1},{"s":24,"p":30,"d":25,"r":0.1,"v":0.0},
{"s":25,"p":0,"d":0,"r":0,"v":4.7},{"s":25,"p":1,"d":7,"r":2.4,"v":4.7},{"s":25,"p":2,"d":15,"r":2.2,"v":4.7},{"s":25,"p":3,"d":22,"r":2.2,"v":4.6},{"s":25,"p":4,"d":30,"r":2.2,"v":4.6},{"s":25,"p":5,"d":36,"r":2.3,"v":4.5},{"s":25,"p":6,"d":42,"r":2.3,"v":4.5},{"s":25,"p":7,"d":48,"r":2.3,"v":4.4},{"s":25,"p":8,"d":53,"r":2.3,"v":4.4},{"s":25,"p":9,"d":57,"r":2.3,"v":4.4},{"s":25,"p":10,"d":60,"r":2.4,"v":4.4},{"s":25,"p":11,"d":62,"r":2.4,"v":4.3},{"s":25,"p":12,"d":65,"r":2.4,"v":4.1},{"s":25,"p":13,"d":66,"r":2.5,"v":3.7},{"s":25,"p":14,"d":68,"r":2.7,"v":3.5},{"s":25,"p":15,"d":70,"r":2.8,"v":3.2},{"s":25,"p":16,"d":70,"r":3.0,"v":2.7},{"s":25,"p":17,"d":71,"r":3.1,"v":2.2},{"s":25,"p":18,"d":72,"r":3.2,"v":1.8},{"s":25,"p":19,"d":73,"r":3.4,"v":1.6},{"s":25,"p":20,"d":74,"r":3.5,"v":1.1},{"s":25,"p":21,"d":74,"r":3.4,"v":0.8},{"s":25,"p":22,"d":75,"r":3.3,"v":0.7},{"s":25,"p":23,"d":76,"r":3.2,"v":0.7},{"s":25,"p":24,"d":77,"r":2.9,"v":0.7},{"s":25,"p":25,"d":78,"r":2.6,"v":0.7},{"s":25,"p":26,"d":78,"r":2.3,"v":0.4},{"s":25,"p":27,"d":78,"r":1.9,"v":0.3},{"s":25,"p":28,"d":79,"r":1.4,"v":0.3},{"s":25,"p":29,"d":80,"r":1.0,"v":0.2},{"s":25,"p":30,"d":80,"r":0.5,"v":0.1},
{"s":26,"p":0,"d":0,"r":0,"v":2.0},{"s":26,"p":1,"d":4,"r":1.3,"v":2.0},{"s":26,"p":2,"d":7,"r":1.0,"v":2.0},{"s":26,"p":3,"d":10,"r":1.0,"v":2.0},{"s":26,"p":4,"d":12,"r":1.0,"v":1.9},{"s":26,"p":5,"d":14,"r":1.0,"v":1.9},{"s":26,"p":6,"d":16,"r":1.0,"v":1.9},{"s":26,"p":7,"d":18,"r":1.1,"v":1.9},{"s":26,"p":8,"d":19,"r":1.1,"v":1.9},{"s":26,"p":9,"d":20,"r":1.1,"v":1.9},{"s":26,"p":10,"d":21,"r":1.1,"v":1.9},{"s":26,"p":11,"d":22,"r":1.1,"v":1.8},{"s":26,"p":12,"d":23,"r":1.1,"v":1.7},{"s":26,"p":13,"d":24,"r":1.0,"v":1.6},{"s":26,"p":14,"d":24,"r":1.0,"v":1.5},{"s":26,"p":15,"d":25,"r":1.0,"v":1.4},{"s":26,"p":16,"d":26,"r":0.9,"v":1.1},{"s":26,"p":17,"d":26,"r":0.9,"v":0.9},{"s":26,"p":18,"d":27,"r":0.8,"v":0.8},{"s":26,"p":19,"d":28,"r":0.8,"v":0.7},{"s":26,"p":20,"d":28,"r":0.7,"v":0.5},{"s":26,"p":21,"d":28,"r":0.7,"v":0.3},{"s":26,"p":22,"d":29,"r":0.7,"v":0.3},{"s":26,"p":23,"d":29,"r":0.6,"v":0.3},{"s":26,"p":24,"d":29,"r":0.6,"v":0.3},{"s":26,"p":25,"d":29,"r":0.5,"v":0.3},{"s":26,"p":26,"d":30,"r":0.5,"v":0.2},{"s":26,"p":27,"d":30,"r":0.4,"v":0.1},{"s":26,"p":28,"d":30,"r":0.3,"v":0.1},{"s":26,"p":29,"d":31,"r":0.2,"v":0.1},{"s":26,"p":30,"d":31,"r":0.1,"v":0.1},
{"s":27,"p":0,"d":0,"r":0,"v":1.9},{"s":27,"p":1,"d":4,"r":1.2,"v":1.9},{"s":27,"p":2,"d":7,"r":1.0,"v":1.9},{"s":27,"p":3,"d":9,"r":1.0,"v":1.9},{"s":27,"p":4,"d":12,"r":1.0,"v":1.8},{"s":27,"p":5,"d":14,"r":1.0,"v":1.8},{"s":27,"p":6,"d":16,"r":1.0,"v":1.8},{"s":27,"p":7,"d":17,"r":1.0,"v":1.8},{"s":27,"p":8,"d":19,"r":0.9,"v":1.8},{"s":27,"p":9,"d":20,"r":0.9,"v":1.8},{"s":27,"p":10,"d":21,"r":0.9,"v":1.8},{"s":27,"p":11,"d":22,"r":0.9,"v":1.7},{"s":27,"p":12,"d":23,"r":0.9,"v":1.7},{"s":27,"p":13,"d":23,"r":0.9,"v":1.5},{"s":27,"p":14,"d":24,"r":0.9,"v":1.4},{"s":27,"p":15,"d":24,"r":0.9,"v":1.3},{"s":27,"p":16,"d":25,"r":0.9,"v":1.1},{"s":27,"p":17,"d":26,"r":0.8,"v":0.9},{"s":27,"p":18,"d":26,"r":0.8,"v":0.7},{"s":27,"p":19,"d":27,"r":0.8,"v":0.6},{"s":27,"p":20,"d":27,"r":0.8,"v":0.5},{"s":27,"p":21,"d":27,"r":0.8,"v":0.3},{"s":27,"p":22,"d":28,"r":0.8,"v":0.3},{"s":27,"p":23,"d":28,"r":0.7,"v":0.3},{"s":27,"p":24,"d":28,"r":0.7,"v":0.3},{"s":27,"p":25,"d":29,"r":0.6,"v":0.3},{"s":27,"p":26,"d":29,"r":0.5,"v":0.2},{"s":27,"p":27,"d":29,"r":0.4,"v":0.1},{"s":27,"p":28,"d":29,"r":0.3,"v":0.1},{"s":27,"p":29,"d":30,"r":0.2,"v":0.1},{"s":27,"p":30,"d":30,"r":0.1,"v":0.1},
{"s":28,"p":0,"d":0,"r":0,"v":4.4},{"s":28,"p":1,"d":5,"r":2.3,"v":4.4},{"s":28,"p":2,"d":10,"r":2.0,"v":4.4},{"s":28,"p":3,"d":15,"r":2.0,"v":4.3},{"s":28,"p":4,"d":19,"r":2.0,"v":4.3},{"s":28,"p":5,"d":23,"r":2.0,"v":4.2},{"s":28,"p":6,"d":28,"r":2.0,"v":4.2},{"s":28,"p":7,"d":31,"r":2.0,"v":4.2},{"s":28,"p":8,"d":34,"r":2.0,"v":4.1},{"s":28,"p":9,"d":37,"r":2.0,"v":4.1},{"s":28,"p":10,"d":39,"r":2.0,"v":4.1},{"s":28,"p":11,"d":41,"r":2.0,"v":4.0},{"s":28,"p":12,"d":42,"r":2.0,"v":3.8},{"s":28,"p":13,"d":43,"r":2.0,"v":3.5},{"s":28,"p":14,"d":44,"r":1.9,"v":3.3},{"s":28,"p":15,"d":45,"r":1.9,"v":3.0},{"s":28,"p":16,"d":46,"r":1.9,"v":2.5},{"s":28,"p":17,"d":46,"r":1.8,"v":2.0},{"s":28,"p":18,"d":47,"r":1.8,"v":1.7},{"s":28,"p":19,"d":47,"r":1.7,"v":1.5},{"s":28,"p":20,"d":48,"r":1.7,"v":1.1},{"s":28,"p":21,"d":48,"r":1.7,"v":0.7},{"s":28,"p":22,"d":49,"r":1.6,"v":0.7},{"s":28,"p":23,"d":49,"r":1.5,"v":0.6},{"s":28,"p":24,"d":50,"r":1.4,"v":0.6},{"s":28,"p":25,"d":50,"r":1.3,"v":0.6},{"s":28,"p":26,"d":51,"r":1.1,"v":0.4},{"s":28,"p":27,"d":51,"r":0.9,"v":0.3},{"s":28,"p":28,"d":51,"r":0.7,"v":0.3},{"s":28,"p":29,"d":52,"r":0.5,"v":0.2},{"s":28,"p":30,"d":52,"r":0.2,"v":0.1},
{"s":29,"p":0,"d":0,"r":0,"v":3.9},{"s":29,"p":1,"d":4,"r":1.8,"v":3.9},{"s":29,"p":2,"d":9,"r":1.8,"v":3.9},{"s":29,"p":3,"d":14,"r":1.8,"v":3.8},{"s":29,"p":4,"d":18,"r":1.8,"v":3.8},{"s":29,"p":5,"d":22,"r":1.8,"v":3.8},{"s":29,"p":6,"d":26,"r":1.8,"v":3.7},{"s":29,"p":7,"d":29,"r":1.9,"v":3.7},{"s":29,"p":8,"d":32,"r":1.9,"v":3.7},{"s":29,"p":9,"d":35,"r":1.9,"v":3.6},{"s":29,"p":10,"d":37,"r":1.9,"v":3.6},{"s":29,"p":11,"d":38,"r":1.9,"v":3.6},{"s":29,"p":12,"d":40,"r":1.9,"v":3.4},{"s":29,"p":13,"d":41,"r":2.0,"v":3.1},{"s":29,"p":14,"d":42,"r":2.1,"v":2.9},{"s":29,"p":15,"d":43,"r":2.1,"v":2.7},{"s":29,"p":16,"d":43,"r":2.2,"v":2.2},{"s":29,"p":17,"d":44,"r":2.3,"v":1.8},{"s":29,"p":18,"d":44,"r":2.4,"v":1.5},{"s":29,"p":19,"d":45,"r":2.4,"v":1.3},{"s":29,"p":20,"d":45,"r":2.5,"v":0.9},{"s":29,"p":21,"d":46,"r":2.5,"v":0.7},{"s":29,"p":22,"d":46,"r":2.4,"v":0.6},{"s":29,"p":23,"d":47,"r":2.3,"v":0.6},{"s":29,"p":24,"d":47,"r":2.1,"v":0.6},{"s":29,"p":25,"d":48,"r":1.9,"v":0.5},{"s":29,"p":26,"d":48,"r":1.7,"v":0.4},{"s":29,"p":27,"d":48,"r":1.3,"v":0.3},{"s":29,"p":28,"d":49,"r":1.0,"v":0.2},{"s":29,"p":29,"d":49,"r":0.7,"v":0.2},{"s":29,"p":30,"d":49,"r":0.4,"v":0.1},
{"s":30,"p":0,"d":0,"r":0,"v":0.9},{"s":30,"p":1,"d":2,"r":0.9,"v":0.9},{"s":30,"p":2,"d":4,"r":0.6,"v":0.9},{"s":30,"p":3,"d":6,"r":0.6,"v":0.9},{"s":30,"p":4,"d":7,"r":0.6,"v":0.9},{"s":30,"p":5,"d":9,"r":0.6,"v":0.9},{"s":30,"p":6,"d":10,"r":0.6,"v":0.9},{"s":30,"p":7,"d":11,"r":0.6,"v":0.9},{"s":30,"p":8,"d":12,"r":0.6,"v":0.8},{"s":30,"p":9,"d":13,"r":0.6,"v":0.8},{"s":30,"p":10,"d":13,"r":0.6,"v":0.8},{"s":30,"p":11,"d":14,"r":0.6,"v":0.8},{"s":30,"p":12,"d":14,"r":0.6,"v":0.8},{"s":30,"p":13,"d":15,"r":0.6,"v":0.7},{"s":30,"p":14,"d":15,"r":0.6,"v":0.7},{"s":30,"p":15,"d":15,"r":0.6,"v":0.6},{"s":30,"p":16,"d":16,"r":0.6,"v":0.5},{"s":30,"p":17,"d":16,"r":0.5,"v":0.4},{"s":30,"p":18,"d":17,"r":0.5,"v":0.4},{"s":30,"p":19,"d":17,"r":0.5,"v":0.3},{"s":30,"p":20,"d":17,"r":0.5,"v":0.2},{"s":30,"p":21,"d":17,"r":0.5,"v":0.2},{"s":30,"p":22,"d":17,"r":0.5,"v":0.1},{"s":30,"p":23,"d":18,"r":0.5,"v":0.1},{"s":30,"p":24,"d":18,"r":0.4,"v":0.1},{"s":30,"p":25,"d":18,"r":0.4,"v":0.1},{"s":30,"p":26,"d":18,"r":0.3,"v":0.1},{"s":30,"p":27,"d":18,"r":0.3,"v":0.1},{"s":30,"p":28,"d":19,"r":0.2,"v":0.1},{"s":30,"p":29,"d":19,"r":0.1,"v":0.0},{"s":30,"p":30,"d":19,"r":0.1,"v":0.0}
],
"m":[
{"s":1,"m":4.35},{"s":2,"m":4.73},{"s":3,"m":4.45},{"s":4,"m":4.01},{"s":5,"m":5.51},{"s":6,"m":3.98},{"s":7,"m":4.26},{"s":8,"m":3.6},{"s":9,"m":2.5},{"s":10,"m":2.41},{"s":11,"m":2.3},{"s":12,"m":2.9},{"s":13,"m":3.82},{"s":14,"m":2.92},{"s":15,"m":3.02},{"s":16,"m":2.19},{"s":17,"m":1.21},{"s":18,"m":2.03},{"s":19,"m":1.13},{"s":20,"m":1.47},{"s":21,"m":1.8},{"s":22,"m":1.93},{"s":23,"m":0.94},{"s":24,"m":0.63},{"s":25,"m":1.87},{"s":26,"m":0.8},{"s":27,"m":0.77},{"s":28,"m":1.76},{"s":29,"m":1.57},{"s":30,"m":0.37}
]},
"hconcat":[
{"width":239,"height":525,
"layer":[
{"data":{"name":"f"},"mark":{"type":"line","strokeWidth":1,"opacity":0.8},
"encoding":{
"x":{"field":"d","type":"quantitative","scale":{"domain":[0,300],"nice":false},"axis":{"title":"Desplazamiento [mm]","tickCount":15,"labelExpr":"datum.value % 100 === 0 ? '' + datum.value : ''","gridColor":{"condition":{"test":"datum.value % 100 === 0","value":"#dcdcdc"},"value":"#efefef"}}},
"y":{"field":"p","type":"quantitative","scale":{"domain":[0,30],"nice":false},"axis":{"title":"Piso","tickCount":150,"labelExpr":"datum.value >= 1 && datum.value % 1 === 0 ? '' + datum.value : ''","gridColor":{"condition":{"test":"datum.value % 1 === 0","value":"#dcdcdc"},"value":"#f1f1f1"}}},
"color":{"field":"s","type":"nominal","legend":null,"scale":{"domain":[1,2,3,4,5,6,7,8,9,10,11,12,13,14,15,16,17,18,19,20,21,22,23,24,25,26,27,28,29,30],"range":["#0072BD","#D95319","#EDB120","#7E2F8E","#77AC30","#4DBEEE","#A2142F","#0072BD","#D95319","#EDB120","#7E2F8E","#77AC30","#4DBEEE","#A2142F","#0072BD","#D95319","#EDB120","#7E2F8E","#77AC30","#4DBEEE","#A2142F","#0072BD","#D95319","#EDB120","#7E2F8E","#77AC30","#4DBEEE","#A2142F","#0072BD","#D95319"]}},
"order":{"field":"p"}}},
{"data":{"name":"f"},"mark":{"type":"point","shape":"circle","filled":false,"size":70,"strokeWidth":1,"opacity":0.8},
"encoding":{
"x":{"field":"d","type":"quantitative"},
"y":{"field":"p","type":"quantitative"},
"color":{"field":"s","type":"nominal","legend":null}}}
]},
{"width":238,"height":525,
"layer":[
{"data":{"name":"f"},"mark":{"type":"line","strokeWidth":1,"opacity":0.8},
"encoding":{
"x":{"field":"r","type":"quantitative","scale":{"domain":[0,8],"nice":false},"axis":{"title":"Relación IDR [m/m]","tickCount":16,"labelExpr":"datum.value % 2 === 0 ? '' + datum.value : ''","gridColor":{"condition":{"test":"datum.value % 2 === 0","value":"#dcdcdc"},"value":"#efefef"}}},
"y":{"field":"p","type":"quantitative","scale":{"domain":[0,30],"nice":false},"axis":{"title":"Piso","tickCount":150,"labelExpr":"datum.value >= 1 && datum.value % 1 === 0 ? '' + datum.value : ''","gridColor":{"condition":{"test":"datum.value % 1 === 0","value":"#dcdcdc"},"value":"#f1f1f1"}}},
"color":{"field":"s","type":"nominal","legend":null,"scale":{"domain":[1,2,3,4,5,6,7,8,9,10,11,12,13,14,15,16,17,18,19,20,21,22,23,24,25,26,27,28,29,30],"range":["#0072BD","#D95319","#EDB120","#7E2F8E","#77AC30","#4DBEEE","#A2142F","#0072BD","#D95319","#EDB120","#7E2F8E","#77AC30","#4DBEEE","#A2142F","#0072BD","#D95319","#EDB120","#7E2F8E","#77AC30","#4DBEEE","#A2142F","#0072BD","#D95319","#EDB120","#7E2F8E","#77AC30","#4DBEEE","#A2142F","#0072BD","#D95319"]}},
"order":{"field":"p"}}},
{"data":{"name":"f"},"mark":{"type":"point","shape":"circle","filled":false,"size":70,"strokeWidth":1,"opacity":0.8},
"encoding":{
"x":{"field":"r","type":"quantitative"},
"y":{"field":"p","type":"quantitative"},
"color":{"field":"s","type":"nominal","legend":null}}},
{"data":{"values":[{"t":"×10"}]},"mark":{"type":"text","align":"right","baseline":"alphabetic","dx":-8,"dy":38,"fontSize":14,"font":"Liberation Sans","color":"#262626"},"encoding":{"x":{"datum":8},"y":{"datum":0},"text":{"field":"t"}}},
{"data":{"values":[{"t":"-3"}]},"mark":{"type":"text","align":"left","baseline":"alphabetic","dx":-7,"dy":31,"fontSize":10,"font":"Liberation Sans","color":"#262626"},"encoding":{"x":{"datum":8},"y":{"datum":0},"text":{"field":"t"}}}
]},
{"width":238,"height":525,
"layer":[
{"data":{"name":"f"},"mark":{"type":"line","strokeWidth":1,"opacity":0.8},
"encoding":{
"x":{"field":"v","type":"quantitative","scale":{"domain":[0,15],"nice":false},"axis":{"title":"Corte [kN]","tickCount":15,"labelExpr":"datum.value % 5 === 0 ? '' + datum.value : ''","gridColor":{"condition":{"test":"datum.value % 5 === 0","value":"#dcdcdc"},"value":"#efefef"}}},
"y":{"field":"p","type":"quantitative","scale":{"domain":[0,30],"nice":false},"axis":{"title":"Piso","tickCount":150,"labelExpr":"datum.value >= 1 && datum.value % 1 === 0 ? '' + datum.value : ''","gridColor":{"condition":{"test":"datum.value % 1 === 0","value":"#dcdcdc"},"value":"#f1f1f1"}}},
"color":{"field":"s","type":"nominal","legend":null,"scale":{"domain":[1,2,3,4,5,6,7,8,9,10,11,12,13,14,15,16,17,18,19,20,21,22,23,24,25,26,27,28,29,30],"range":["#0072BD","#D95319","#EDB120","#7E2F8E","#77AC30","#4DBEEE","#A2142F","#0072BD","#D95319","#EDB120","#7E2F8E","#77AC30","#4DBEEE","#A2142F","#0072BD","#D95319","#EDB120","#7E2F8E","#77AC30","#4DBEEE","#A2142F","#0072BD","#D95319","#EDB120","#7E2F8E","#77AC30","#4DBEEE","#A2142F","#0072BD","#D95319"]}},
"order":{"field":"p"}}},
{"data":{"name":"f"},"mark":{"type":"point","shape":"circle","filled":false,"size":70,"strokeWidth":1,"opacity":0.8},
"encoding":{
"x":{"field":"v","type":"quantitative"},
"y":{"field":"p","type":"quantitative"},
"color":{"field":"s","type":"nominal","legend":null}}},
{"data":{"values":[{"t":"×10"}]},"mark":{"type":"text","align":"right","baseline":"alphabetic","dx":-8,"dy":38,"fontSize":14,"font":"Liberation Sans","color":"#262626"},"encoding":{"x":{"datum":15},"y":{"datum":0},"text":{"field":"t"}}},
{"data":{"values":[{"t":"6"}]},"mark":{"type":"text","align":"left","baseline":"alphabetic","dx":-7,"dy":31,"fontSize":10,"font":"Liberation Sans","color":"#262626"},"encoding":{"x":{"datum":15},"y":{"datum":0},"text":{"field":"t"}}}
]},
{"width":238,"height":525,
"layer":[
{"data":{"name":"m"},"mark":{"type":"point","shape":"circle","filled":false,"size":64,"strokeWidth":1,"opacity":0.8},
"encoding":{
"x":{"datum":2,"type":"quantitative","scale":{"domain":[0,4],"nice":false},"axis":{"title":null,"values":[1,2,3],"labelExpr":"datum.value === 2 ? 'Momento Volcante' : ''","gridColor":"#e4e4e4"}},
"y":{"field":"m","type":"quantitative","scale":{"domain":[0,6],"nice":false},"axis":{"title":"Momento Volcante [kN-m]","tickCount":30,"labelExpr":"datum.value % 1 === 0 ? '' + datum.value : ''","gridColor":{"condition":{"test":"datum.value % 1 === 0","value":"#dcdcdc"},"value":"#efefef"}}},
"color":{"field":"s","type":"nominal","legend":null,"scale":{"domain":[1,2,3,4,5,6,7,8,9,10,11,12,13,14,15,16,17,18,19,20,21,22,23,24,25,26,27,28,29,30],"range":["#0072BD","#D95319","#EDB120","#7E2F8E","#77AC30","#4DBEEE","#A2142F","#0072BD","#D95319","#EDB120","#7E2F8E","#77AC30","#4DBEEE","#A2142F","#0072BD","#D95319","#EDB120","#7E2F8E","#77AC30","#4DBEEE","#A2142F","#0072BD","#D95319","#EDB120","#7E2F8E","#77AC30","#4DBEEE","#A2142F","#0072BD","#D95319"]}}}},
{"data":{"values":[{"t":"×10"}]},"mark":{"type":"text","align":"left","baseline":"alphabetic","dx":3,"dy":-3,"fontSize":14,"font":"Liberation Sans","color":"#262626"},"encoding":{"x":{"datum":0},"y":{"datum":6},"text":{"field":"t"}}},
{"data":{"values":[{"t":"9"}]},"mark":{"type":"text","align":"left","baseline":"alphabetic","dx":26,"dy":-10,"fontSize":10,"font":"Liberation Sans","color":"#262626"},"encoding":{"x":{"datum":0},"y":{"datum":6},"text":{"field":"t"}}}
]}
],
"spacing":75,
"bounds":"flush"
}
